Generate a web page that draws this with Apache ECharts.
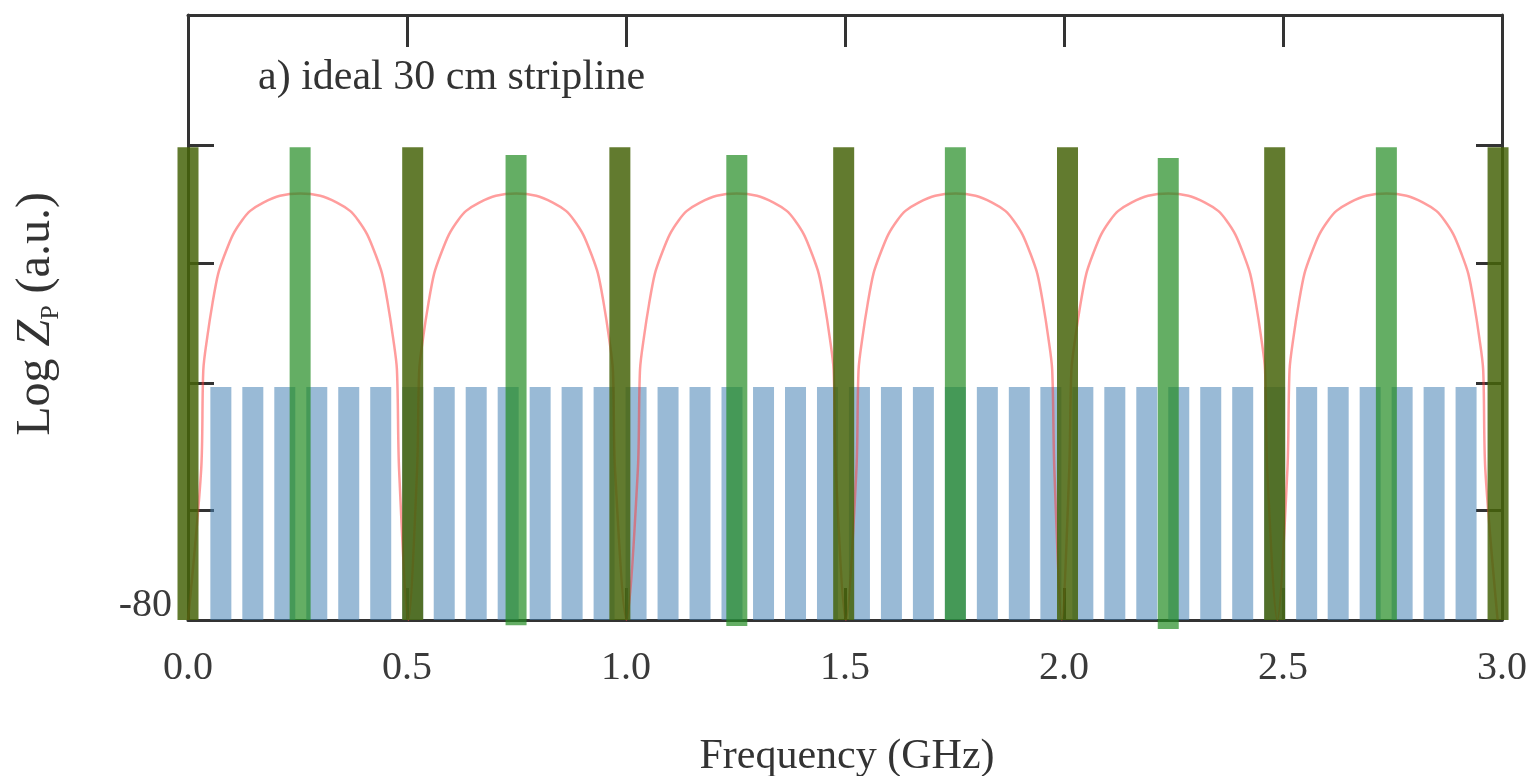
<!DOCTYPE html>
<html>
<head>
<meta charset="utf-8">
<title>ideal 30 cm stripline</title>
<script src="https://cdn.jsdelivr.net/npm/echarts@6/dist/echarts.min.js"></script>
<style>
  html, body { margin: 0; padding: 0; background: #fff; }
  #chart { width: 1530px; height: 776px; }
</style>
</head>
<body>
<div id="chart"></div>
<script>
// frequencies in GHz, levels in Log Zp units (axis bottom = -80)
const yTickValues = [-80, -65.5, -48.7, -32.8, -17.2, 0];
const yLabelValues = [-80];

// dark green markers (full-wave resonances)
const darkFreq = [0, 0.513, 0.986, 1.497, 2.008, 2.481, 2.991];
const darkTop = [-17.5, -17.5, -17.5, -17.5, -17.5, -17.5, -17.5];

// light green markers (half-wave resonances)
const lightFreq = [0.256, 0.749, 1.253, 1.752, 2.238, 2.736];
const lightTop = [-17.5, -18.5, -18.5, -17.5, -18.9, -17.5];
const lightBottom = [-80, -80.7, -80.8, -80, -81.2, -80];

// blue comb
const blueFreq = [
  0.075, 0.148, 0.221, 0.294, 0.367, 0.440, 0.513, 0.585, 0.658, 0.731,
  0.804, 0.877, 0.950, 1.023, 1.096, 1.169, 1.242, 1.314, 1.387, 1.460,
  1.533, 1.606, 1.679, 1.752, 1.825, 1.898, 1.970, 2.043, 2.116, 2.189,
  2.262, 2.335, 2.408, 2.481, 2.554, 2.626, 2.699, 2.772, 2.845, 2.918
];
const blueTop = -49.2;

// impedance curve: every arch reads the same levels, at its own frequencies
const archLevel = [-60.2, -46.9, -42.6, -38.1, -34.2, -31.5, -29.0, -27.1, -25.9, -24.8, -23.9, -23.6,
                   -23.9, -24.8, -25.9, -27.1, -29.0, -31.5, -34.2, -38.1, -42.6, -46.9, -60.2];
const archFreq = [
  [0.030, 0.035, 0.044, 0.056, 0.069, 0.085, 0.103, 0.124, 0.142, 0.172, 0.210, 0.256,
   0.302, 0.340, 0.370, 0.388, 0.409, 0.427, 0.443, 0.456, 0.468, 0.477, 0.482],
  [0.523, 0.528, 0.537, 0.549, 0.562, 0.578, 0.596, 0.617, 0.635, 0.665, 0.703, 0.749,
   0.795, 0.833, 0.863, 0.881, 0.902, 0.920, 0.936, 0.949, 0.961, 0.970, 0.975],
  [1.027, 1.032, 1.041, 1.053, 1.066, 1.082, 1.100, 1.121, 1.139, 1.169, 1.207, 1.253,
   1.299, 1.337, 1.367, 1.385, 1.406, 1.424, 1.440, 1.453, 1.465, 1.474, 1.479],
  [1.526, 1.531, 1.540, 1.552, 1.565, 1.581, 1.599, 1.620, 1.638, 1.668, 1.706, 1.752,
   1.798, 1.836, 1.866, 1.884, 1.905, 1.923, 1.939, 1.952, 1.964, 1.973, 1.978],
  [2.012, 2.017, 2.026, 2.038, 2.051, 2.067, 2.085, 2.106, 2.124, 2.154, 2.192, 2.238,
   2.284, 2.322, 2.352, 2.370, 2.391, 2.409, 2.425, 2.438, 2.450, 2.459, 2.464],
  [2.510, 2.515, 2.524, 2.536, 2.549, 2.565, 2.583, 2.604, 2.622, 2.652, 2.690, 2.736,
   2.782, 2.820, 2.850, 2.868, 2.889, 2.907, 2.923, 2.936, 2.948, 2.957, 2.962]
];
const dipFreq = [0, 0.503, 1.001, 1.502, 1.995, 2.487, 2.99];
const dipLevel = -80;

const zpCurve = [];
dipFreq.forEach((d, i) => {
  zpCurve.push([d, dipLevel]);
  if (archFreq[i]) archFreq[i].forEach((f, j) => zpCurve.push([f, archLevel[j]]));
});

const serif = '"Liberation Serif", "DejaVu Serif", serif';
const frameColor = '#333';
const textColor = '#3a3a3a';

function rangeBar(width, color) {
  return function (params, api) {
    const top = api.coord([api.value(0), api.value(2)]);
    const bottom = api.coord([api.value(0), api.value(1)]);
    return {
      type: 'rect',
      shape: {x: top[0] - width / 2, y: top[1], width: width, height: bottom[1] - top[1]},
      style: {fill: color}
    };
  };
}

const chart = echarts.init(document.getElementById('chart'));

const xAxisBase = {
  type: 'value',
  min: 0,
  max: 3,
  interval: 0.5,
  axisLine: {show: true, onZero: false, lineStyle: {color: frameColor, width: 3}},
  axisTick: {show: true, inside: true, length: 32, lineStyle: {color: frameColor, width: 3}},
  splitLine: {show: false}
};
const yAxisBase = {
  type: 'value',
  min: -80,
  max: 0,
  axisLine: {show: true, onZero: false, lineStyle: {color: frameColor, width: 3}},
  axisTick: {show: true, inside: true, length: 26, customValues: yTickValues, lineStyle: {color: frameColor, width: 3}},
  splitLine: {show: false}
};

chart.setOption({
  animation: false,
  grid: {left: 188, right: 25, top: 15, bottom: 156},
  xAxis: [
    Object.assign({}, xAxisBase, {
      position: 'bottom',
      axisLabel: {
        formatter: v => v.toFixed(1),
        fontSize: 40, fontFamily: serif, color: textColor, margin: 28
      }
    }),
    Object.assign({}, xAxisBase, {position: 'top', axisLabel: {show: false}})
  ],
  yAxis: [
    Object.assign({}, yAxisBase, {
      position: 'left',
      axisLabel: {
        customValues: yLabelValues, fontSize: 40, fontFamily: serif, color: textColor,
        margin: 16, verticalAlign: 'bottom', lineHeight: 30
      }
    }),
    Object.assign({}, yAxisBase, {position: 'right', axisLabel: {show: false}})
  ],
  graphic: [
    {
      type: 'text', x: 258, y: 78,
      style: {text: 'a) ideal 30 cm stripline', fontSize: 42, fontFamily: serif, fill: '#333', verticalAlign: 'middle'}
    },
    {
      type: 'text', x: 847, y: 757,
      style: {text: 'Frequency (GHz)', fontSize: 42, fontFamily: serif, fill: '#333', align: 'center', verticalAlign: 'middle'}
    },
    {
      type: 'text', x: 36, y: 314, rotation: Math.PI / 2,
      style: {
        text: '{n|Log }{i|Z}{s|P}{n| (a.u.)}',
        align: 'center', verticalAlign: 'middle',
        rich: {
          n: {fontSize: 48, fontFamily: serif, fill: '#333', color: '#333'},
          i: {fontSize: 48, fontFamily: serif, fontStyle: 'italic', fill: '#333', color: '#333'},
          s: {fontSize: 26, fontFamily: serif, fill: '#333', color: '#333', padding: [30, 0, 0, 0]}
        }
      }
    }
  ],
  series: [
    {
      type: 'custom',
      name: 'comb',
      z: 2,
      renderItem: rangeBar(21, 'rgba(70,130,180,0.55)'),
      encode: {x: 0, y: [1, 2]},
      data: blueFreq.map(f => [f, -80, blueTop])
    },
    {
      type: 'line',
      name: 'Zp',
      z: 3,
      data: zpCurve,
      showSymbol: false,
      smooth: 0.3,
      lineStyle: {color: 'rgba(255,60,60,0.5)', width: 2.5}
    },
    {
      type: 'custom',
      name: 'full-wave',
      z: 4,
      renderItem: rangeBar(21, 'rgba(70,100,10,0.85)'),
      encode: {x: 0, y: [1, 2]},
      data: darkFreq.map((f, i) => [f, -80, darkTop[i]])
    },
    {
      type: 'custom',
      name: 'half-wave',
      z: 5,
      renderItem: rangeBar(21, 'rgba(34,139,34,0.7)'),
      encode: {x: 0, y: [1, 2]},
      data: lightFreq.map((f, i) => [f, lightBottom[i], lightTop[i]])
    }
  ]
});
</script>
</body>
</html>
